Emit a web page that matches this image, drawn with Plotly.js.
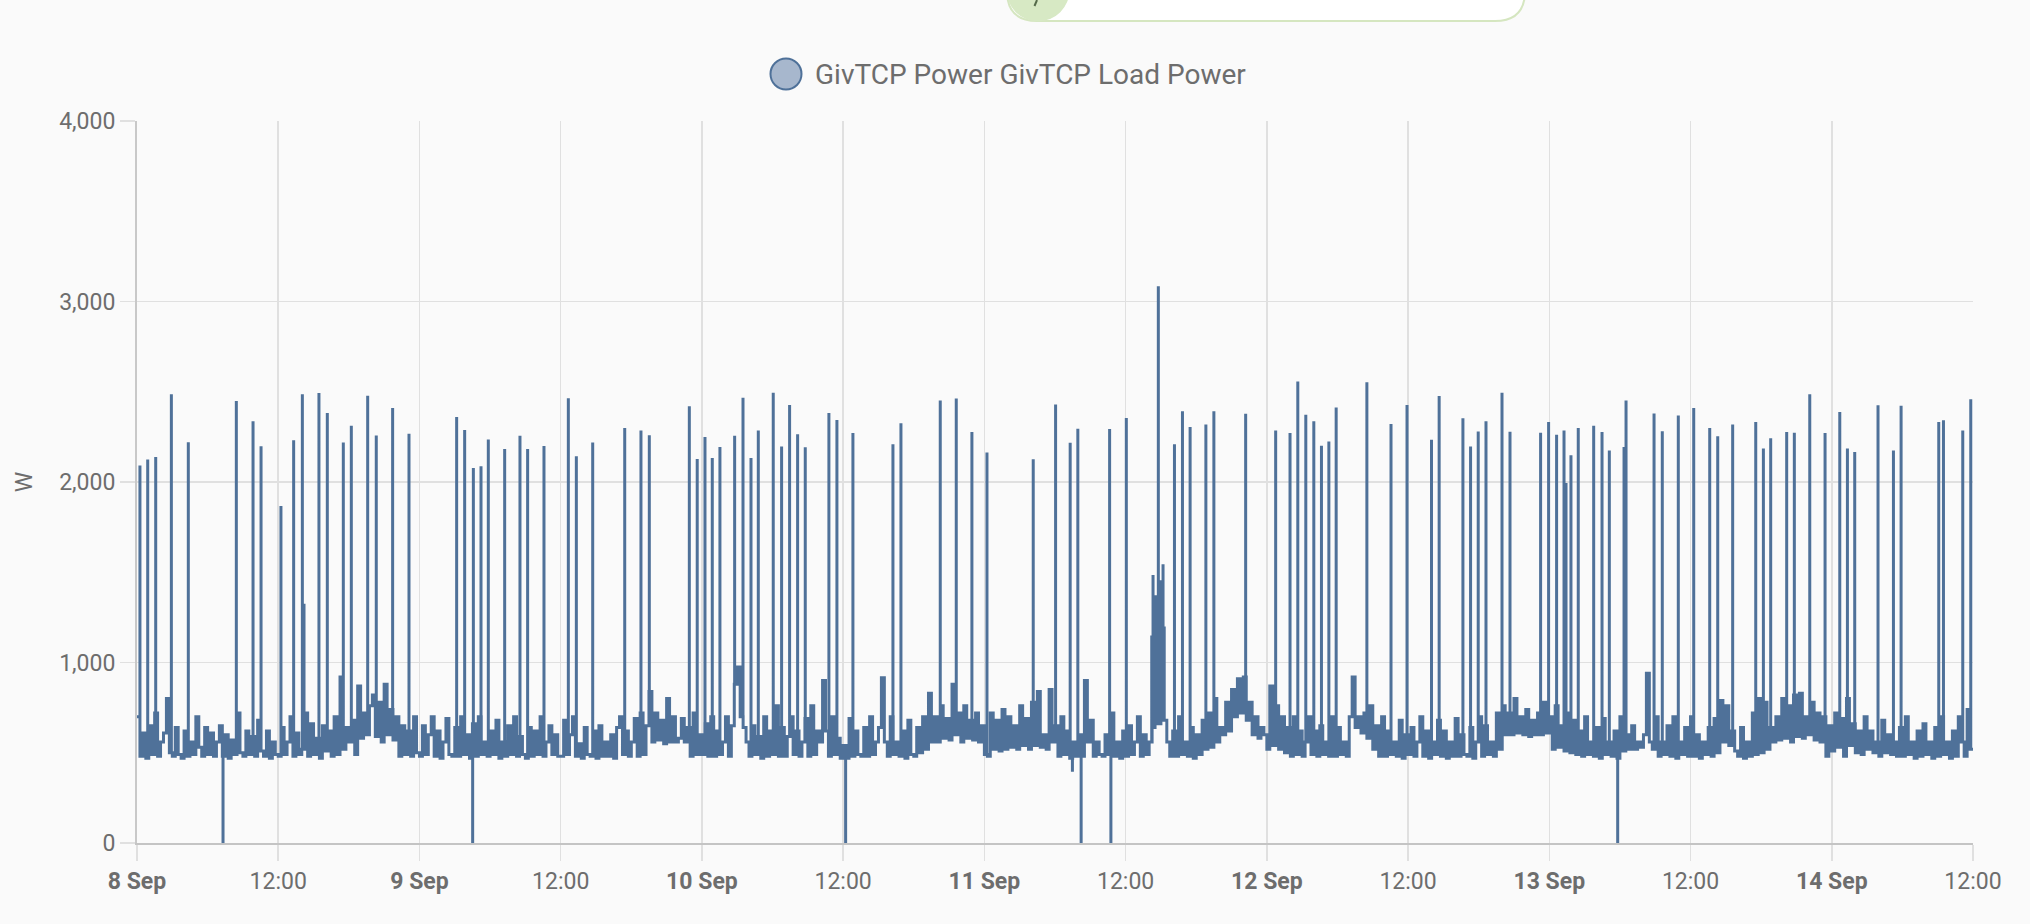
<!DOCTYPE html>
<html>
<head>
<meta charset="utf-8">
<script src="https://cdn.plot.ly/plotly-3.0.1.min.js"></script>
<style>
html,body{margin:0;padding:0;background:#fafafa;}
#chart{width:2030px;height:924px;}
</style>
</head>
<body>
<div id="chart"></div>
<script>
// ---- DATA ----
const seriesName = 'GivTCP Power GivTCP Load Power';
const unit = 'W';
const startDay = '2023-09-08';
// baseline readings every 15 minutes from 8 Sep 00:00 to 14 Sep 12:00 (W)
const baseStepHours = 0.25;
const baseValues = [
700,480,610,470,650,490,720,480,560,610,800,500,480,640,490,470,620,480,560,490,700,530,480,640,
490,610,480,560,650,480,600,470,570,490,720,500,480,620,490,590,480,680,510,480,620,470,560,490,
480,640,490,560,700,480,610,490,520,720,480,660,490,580,470,650,510,620,480,700,490,920,520,640,
560,680,490,870,580,720,600,760,820,590,780,560,880,600,740,570,700,480,650,490,620,480,700,500,
480,650,490,600,700,480,620,470,560,690,490,480,640,480,700,490,600,470,660,480,700,490,560,480,
620,490,680,470,560,480,650,490,700,480,590,490,470,640,480,620,490,700,480,560,650,490,600,480,
480,680,490,600,700,480,550,470,640,490,480,620,470,650,480,560,480,600,470,640,700,490,620,480,
560,690,480,720,490,650,840,560,720,570,680,550,800,560,700,560,580,690,560,640,480,720,490,600,
490,660,480,700,480,620,490,560,700,480,650,880,975,700,640,560,480,650,490,590,470,700,480,620,
490,760,480,640,480,590,700,490,620,480,560,690,480,760,490,620,560,900,620,480,700,490,580,470,
540,470,690,480,620,490,480,640,480,700,490,560,640,915,560,480,700,490,560,480,620,470,680,490,
480,640,500,700,520,830,560,700,560,760,580,690,570,880,600,720,560,760,580,680,570,720,560,650,
490,480,720,520,680,510,740,520,700,530,650,520,760,540,690,520,780,540,840,530,600,520,850,560,
650,480,700,490,620,470,560,480,600,480,900,560,680,480,560,490,480,600,490,720,480,560,470,620,
480,650,490,560,700,480,600,490,560,640,720,660,760,680,560,480,620,480,700,490,560,480,640,470,
600,490,680,520,720,530,800,560,640,600,780,620,850,700,910,720,920,680,780,600,700,580,640,600,
520,870,540,760,520,700,500,640,480,700,490,620,480,560,700,490,620,480,650,490,560,480,700,480,
640,490,560,480,700,920,640,700,610,720,580,760,520,650,480,700,480,620,490,560,480,680,470,600,
490,640,480,560,700,480,620,470,560,490,680,480,620,470,560,480,690,480,600,490,480,640,470,560,
700,480,650,490,560,480,720,520,760,600,720,600,800,610,700,600,740,590,680,600,720,600,780,610,
700,520,760,530,650,510,720,500,680,490,620,480,700,490,560,480,640,470,690,490,560,480,620,470,
700,510,600,520,650,520,560,530,600,940,560,520,700,480,560,490,650,480,700,470,560,490,640,480,
700,480,600,470,560,490,640,480,690,500,790,560,760,540,620,510,480,640,470,560,480,720,490,800,
500,780,520,640,560,700,570,800,580,760,560,820,590,830,580,700,600,780,570,720,560,700,480,650,
510,720,530,690,480,800,540,660,500,620,490,700,520,620,500,560,480,680,500,600,490,560,480,640,
480,700,490,560,470,620,480,660,490,560,470,640,480,700,490,560,470,620,480,700,560,480,740,520,
520
];
// short spikes / drops: hours after 8 Sep 00:00, and reading (W)
const spikeHours = [
0.25,0.91,1.59,2.92,4.36,7.31,8.44,9.86,10.54,12.23,13.31,14.05,14.19,15.46,16.17,17.53,18.21,19.60,20.33,21.72,23.11,
27.16,27.84,28.52,28.58,29.23,29.85,31.24,32.54,33.19,34.58,36.65,37.33,38.72,41.44,42.82,43.53,46.93,47.60,
48.26,48.88,49.53,50.78,51.49,52.17,52.79,54.06,54.77,55.45,56.13,56.78,58.79,59.47,60.21,60.83,64.23,64.91,
68.25,69.61,70.94,72.22,76.15,78.05,79.29,79.48,79.94,80.22,82.64,82.75,84.06,
86.22,86.33,86.45,86.55,86.68,86.78,86.88,86.95,87.08,87.18,87.28,
88.15,88.83,89.48,90.82,91.50,94.20,
96.75,97.97,98.63,99.31,99.99,100.64,101.27,101.89,104.50,106.55,107.91,109.99,110.64,112.66,113.31,113.96,114.62,115.98,116.66,
119.26,119.94,120.62,121.25,121.42,121.84,122.46,123.77,124.48,125.10,125.81,126.35,126.52,128.90,129.60,130.96,132.27,133.63,134.31,135.58,
137.54,138.19,138.81,140.17,140.82,142.13,143.43,144.68,145.33,145.95,147.93,149.24,149.89,153.09,153.49,155.13,155.81
];
const spikeValues = [
2092,2124,2139,2486,2220,0,2449,2336,2198,1867,2231,2486,1326,2493,2382,2219,2312,2478,2257,2410,2268,
2360,2288,0,2078,2087,2235,2183,2256,2183,2200,2464,2142,2219,2299,2285,2259,2419,2128,
2250,2133,2194,2256,2467,2133,2285,2495,2196,2427,2264,2192,2382,2344,0,2272,2209,2325,
2451,2462,2277,2163,2126,2429,2218,395,2295,0,2293,0,2355,
1150,1485,1300,1373,1250,3085,1320,1456,1280,1544,1200,
2209,2392,2305,2318,2392,2378,
2286,2272,2557,2372,2336,2201,2224,2413,2553,2322,2426,2234,2476,2353,2197,2280,2336,2494,2278,
2273,2332,2262,2286,1994,2148,2299,2312,2277,2175,0,2194,2452,2379,2281,2369,2410,2299,2253,2318,
2332,2186,2242,2277,2273,2486,2271,2388,2185,2166,2425,2174,2423,2332,2342,2286,2458
];
const tickHours = [0,12,24,36,48,60,72,84,96,108,120,132,144,156];
const tickLabels = ['<b>8 Sep</b>','12:00','<b>9 Sep</b>','12:00','<b>10 Sep</b>','12:00','<b>11 Sep</b>','12:00',
                    '<b>12 Sep</b>','12:00','<b>13 Sep</b>','12:00','<b>14 Sep</b>','12:00'];
const yTicks = [0,1000,2000,3000,4000];

// ---- BUILD ----
const t0 = Date.parse(startDay + 'T00:00:00Z');
function hourToDate(h){
  return new Date(t0 + Math.round(h*3600000)).toISOString().slice(0,19).replace('T',' ');
}
// step series: each baseline reading holds until the next one; a spike is an
// instantaneous reading that jumps from the held reading and back.
const pts = [];
baseValues.forEach((v,i)=>pts.push({h:i*baseStepHours, o:0, v:v}));
spikeHours.forEach((h,i)=>{
  const held = baseValues[Math.min(baseValues.length-1, Math.floor(h/baseStepHours + 1e-9))];
  pts.push({h:h, o:1, v:held});
  pts.push({h:h, o:2, v:spikeValues[i]});
  pts.push({h:h, o:3, v:held});
});
pts.sort((a,b)=> (a.h-b.h) || (a.o-b.o));
const xs = pts.map(p=>hourToDate(p.h));
const ys = pts.map(p=>p.v);

// page geometry (pixels)
const W = 2030, H = 924;
const M = {l:137, r:57, t:121, b:81};
const pw = W - M.l - M.r, ph = H - M.t - M.b;
const px = x => (x - M.l)/pw;
const py = y => (H - M.b - y)/ph;
function path(list){
  return list.map(s=>{
    if (s[0]==='Z') return 'Z';
    const out=[s[0]];
    for(let k=1;k<s.length;k+=2){ out.push(px(s[k]).toFixed(5)+','+py(s[k+1]).toFixed(5)); }
    return out[0]+out.slice(1).join(' ');
  }).join(' ');
}

const lineColor = '#4f7199';
const txtColor = '#6d6d6d';
const gridColor = '#e0e0e0';

const shapes = [
  // top toolbar remnant
  {type:'path', xref:'paper', yref:'paper', layer:'above',
   path: path([['M',1007,-40],['L',1007,-9],['Q',1007,21,1037,21],['L',1495,21],['Q',1525,21,1525,-9],['L',1525,-40],['Z']]),
   fillcolor:'#ffffff', line:{color:'#d5e6c0', width:2}},
  {type:'circle', xref:'paper', yref:'paper', layer:'above',
   x0:px(1006.5), x1:px(1069.5), y0:py(21.5), y1:py(-41.5),
   fillcolor:'#d7e9c4', line:{width:0}},
  {type:'path', xref:'paper', yref:'paper', layer:'above',
   path: path([['M',1037,0],['L',1034.5,6]]), line:{color:'#556b4a', width:2}},
  // legend marker
  {type:'circle', xref:'paper', yref:'paper', layer:'above',
   x0:px(770.5), x1:px(801.5), y0:py(89.5), y1:py(58.5),
   fillcolor:'#a7b7cd', line:{color:lineColor, width:2}}
];

const annotations = [
  {xref:'paper', yref:'paper', x:px(813), y:py(74), xanchor:'left', yanchor:'middle',
   text: seriesName, showarrow:false, font:{family:'Roboto', size:28, color:txtColor}}
];

const trace = {
  x: xs, y: ys, type:'scatter', mode:'lines', name: seriesName,
  line:{color:lineColor, width:3, shape:'hv'}, hoverinfo:'skip', showlegend:false
};

const layout = {
  width: W, height: H,
  margin:{l:M.l, r:M.r, t:M.t, b:M.b, pad:0},
  paper_bgcolor:'#fafafa', plot_bgcolor:'#fafafa',
  showlegend:false,
  font:{family:'Roboto', color:txtColor},
  xaxis:{
    type:'date', range:[hourToDate(0), hourToDate(156)],
    tickmode:'array', tickvals: tickHours.map(hourToDate), ticktext: tickLabels,
    showgrid:true, gridcolor:gridColor, gridwidth:1.5,
    ticks:'outside', ticklen:16, tickwidth:1.5, tickcolor:gridColor,
    showline:true, linecolor:'#c4c4c4', linewidth:2,
    zeroline:false, automargin:false,
    tickfont:{family:'Roboto', size:23, color:txtColor}
  },
  yaxis:{
    range:[0,4000], tickmode:'array', tickvals:yTicks, tickformat:',d',
    showgrid:true, gridcolor:gridColor, gridwidth:1.5,
    ticks:'outside', ticklen:15, tickwidth:1.5, tickcolor:gridColor,
    showline:true, linecolor:'#c8c8c8', linewidth:2,
    zeroline:false, automargin:false,
    tickfont:{family:'Roboto', size:23, color:txtColor},
    title:{text:unit, standoff:20, font:{family:'Roboto', size:23, color:txtColor}}
  },
  shapes: shapes,
  annotations: annotations
};

Plotly.newPlot('chart', [trace], layout, {displayModeBar:false, staticPlot:true});
</script>
</body>
</html>
